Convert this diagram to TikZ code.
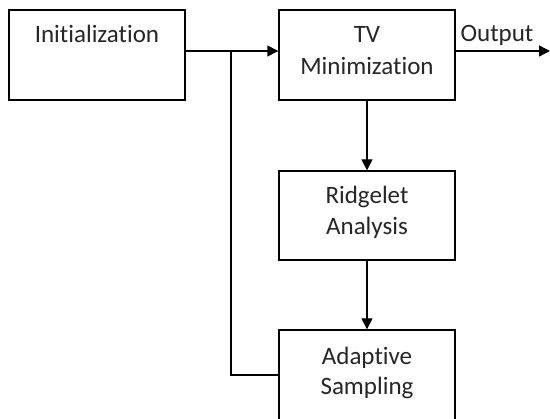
\documentclass[tikz,border=0pt]{standalone}
\usepackage{fontspec}
\setmainfont{Carlito}[Ligatures=NoCommon]
\usetikzlibrary{arrows.meta}
\begin{document}
\begin{tikzpicture}[x=1pt,y=-1pt,
  blk/.style={draw=black,line width=1.4pt,fill=white,inner sep=0pt},
  txt/.style={font=\fontsize{25}{31}\selectfont,text=black!85,align=center,inner sep=0pt,anchor=base},
  conn/.style={line width=1.4pt},
  arr/.style={conn,-{Triangle[length=11pt,width=11pt]}}]
\clip (0,0) rectangle (550,419);
\useasboundingbox (0,0) rectangle (550,419);
\node[blk,minimum width=176pt,minimum height=90pt] (init) at (97,55) {};
\node[blk,minimum width=176pt,minimum height=90pt] (tv) at (367,55) {};
\node[blk,minimum width=176pt,minimum height=89pt] (ridge) at (367,215.5) {};
\node[blk,minimum width=176pt,minimum height=100pt] (adapt) at (367,380) {};
\node[txt] (tinit) at (97,43) {Initialization};
\node[txt] (ttv1) at (367,43) {TV};
\node[txt] (ttv2) at (367,75) {Minimization};
\node[txt] (tr1) at (367,204) {Ridgelet};
\node[txt] (tr2) at (367,235) {Analysis};
\node[txt] (ta1) at (367,365) {Adaptive};
\node[txt] (ta2) at (367,395) {Sampling};
\node[txt] (out) at (497,42) {Output};
\coordinate (j) at (231,51);
\coordinate (jb) at (231,375);
\coordinate (oend) at (550,51);
\draw[arr] ([yshift=4pt]init.east) -- ([yshift=4pt]tv.west);
\draw[arr] ([yshift=4pt]tv.east) -- (oend);
\draw[conn] (j) -- (jb) -- (jb -| adapt.west);
\draw[arr] (tv.south) -- (ridge.north);
\draw[arr] (ridge.south) -- (adapt.north);
\end{tikzpicture}
\end{document}
